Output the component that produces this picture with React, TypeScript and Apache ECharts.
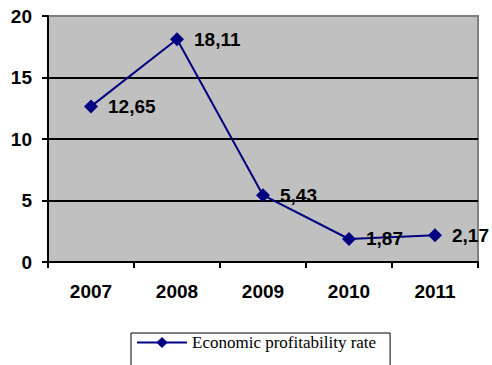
import React, { useEffect, useRef } from "react";
import * as echarts from "echarts";

const years = ["2007", "2008", "2009", "2010", "2011"];
const rates = [12.65, 18.11, 5.43, 1.87, 2.17];
const seriesName = "Economic profitability rate";

export default function App() {
  const ref = useRef<HTMLDivElement>(null);
  useEffect(() => {
    if (!ref.current) return;
    const chart = echarts.init(ref.current, undefined, { renderer: "svg" });
    chart.setOption({
      animation: false,
      backgroundColor: "#ffffff",
      grid: {
        left: 48,
        right: 14,
        top: 16,
        bottom: 103,
        show: true,
        backgroundColor: "#C0C0C0",
        borderColor: "#808080",
        borderWidth: 2,
      },
      legend: {
        left: 131,
        top: 333,
        padding: [1, 14, 30, 5],
        borderColor: "#000",
        borderWidth: 1,
        itemWidth: 50,
        itemHeight: 14,
        textStyle: { fontFamily: "Liberation Serif, Times New Roman, serif", fontSize: 17, color: "#000" },
        data: [seriesName],
      },
      xAxis: {
        type: "category",
        data: years,
        boundaryGap: true,
        axisLine: { show: true, lineStyle: { color: "#000", width: 2 } },
        axisTick: { show: true, length: 6, lineStyle: { color: "#000", width: 2 } },
        axisLabel: {
          margin: 20,
          color: "#000",
          fontWeight: "bold",
          fontSize: 19,
          fontFamily: "Liberation Sans, Arial, sans-serif",
        },
        splitLine: { show: false },
      },
      yAxis: {
        type: "value",
        min: 0,
        max: 20,
        interval: 5,
        axisLine: { show: true, lineStyle: { color: "#000", width: 2 } },
        axisTick: { show: true, length: 6, lineStyle: { color: "#000", width: 2 } },
        axisLabel: {
          margin: 16,
          color: "#000",
          fontWeight: "bold",
          fontSize: 19,
          fontFamily: "Liberation Sans, Arial, sans-serif",
        },
        splitLine: { show: true, showMaxLine: false, lineStyle: { color: "#000", width: 2 } },
      },
      series: [
        {
          name: seriesName,
          type: "line",
          data: rates,
          symbol: "diamond",
          symbolSize: 14,
          itemStyle: { color: "#000080" },
          lineStyle: { color: "#000080", width: 2 },
          label: {
            show: true,
            position: "right",
            distance: 10,
            color: "#000",
            fontWeight: "bold",
            fontSize: 19,
            fontFamily: "Liberation Sans, Arial, sans-serif",
            formatter: (p: any) => String(p.value.toFixed(2)).replace(".", ","),
          },
        },
      ],
    });
    return () => chart.dispose();
  }, []);
  return <div ref={ref} style={{ position: "absolute", left: 0, top: 0, width: 492, height: 365 }} />;
}
